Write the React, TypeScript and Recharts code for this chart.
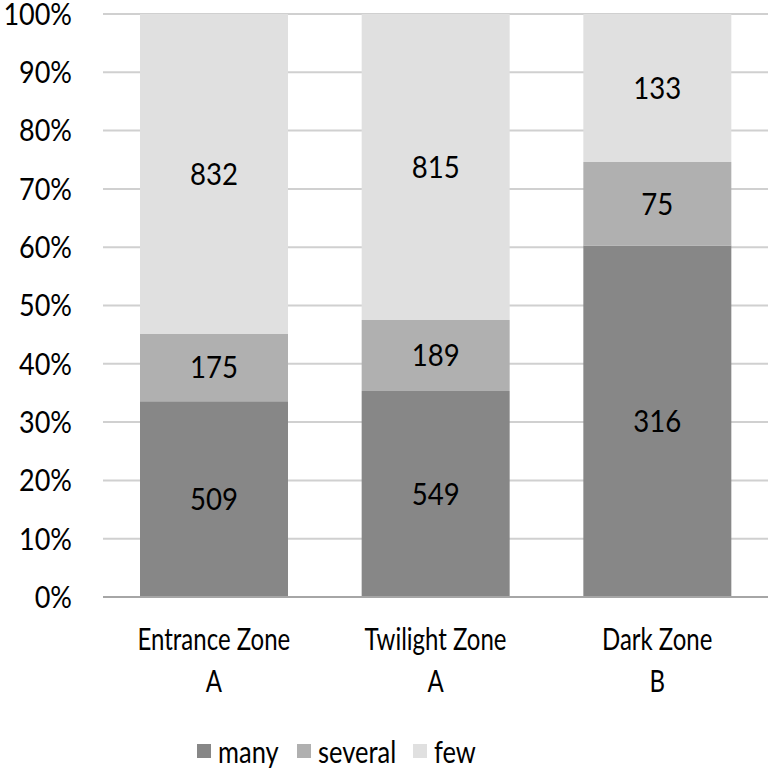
import React from "react";
import { BarChart, Bar, XAxis, YAxis, CartesianGrid, Legend, LabelList } from "recharts";

const zones = ["Entrance Zone", "Twilight Zone", "Dark Zone"];
const letters = ["A", "A", "B"];
const many = [509, 549, 316];
const several = [175, 189, 75];
const few = [832, 815, 133];
const yTicks = [0, 0.1, 0.2, 0.3, 0.4, 0.5, 0.6, 0.7, 0.8, 0.9, 1];

const series = [
  { key: "many", color: "#878787", slot: 100 },
  { key: "several", color: "#b0b0b0", slot: 116 },
  { key: "few", color: "#e0e0e0", slot: 70 },
];

const data = zones.map((zone, i) => ({
  zone,
  letter: letters[i],
  many: many[i],
  several: several[i],
  few: few[i],
}));

const FONT = "Lato, 'Noto Sans', sans-serif";
const FS = 30;

// text squeezed horizontally, the reference font is tall and narrow
function Squeezed({ x, y, sx, anchor = "middle", dy = "0", children }: any) {
  return (
    <text
      transform={`translate(${x},${y}) scale(${sx},1)`}
      x={0}
      y={0}
      dy={dy}
      textAnchor={anchor}
      fill="#000"
      fontSize={FS}
      fontFamily={FONT}
    >
      {children}
    </text>
  );
}

function ZoneTick(props: any) {
  const { x, payload, index } = props;
  return (
    <g>
      <Squeezed x={x} y={650} sx={0.8}>{payload.value}</Squeezed>
      <Squeezed x={x} y={692} sx={0.8}>{letters[index]}</Squeezed>
    </g>
  );
}

function PctTick(props: any) {
  const { x, y, payload } = props;
  return (
    <Squeezed x={x} y={y} sx={0.9} anchor="end" dy="0.36em">
      {`${Math.round(payload.value * 100)}%`}
    </Squeezed>
  );
}

function ValueLabel(props: any) {
  const { x, y, width, height, value } = props;
  return (
    <Squeezed x={x + width / 2} y={y + height / 2} sx={0.92} dy="0.36em">
      {value}
    </Squeezed>
  );
}

function LegendBox() {
  return (
    <div
      style={{
        height: 40,
        display: "flex",
        alignItems: "center",
        paddingLeft: 197,
        fontFamily: FONT,
        fontSize: FS,
        color: "#000",
      }}
    >
      {series.map((s) => (
        <div key={s.key} style={{ display: "flex", alignItems: "center", width: s.slot, flexShrink: 0 }}>
          <span style={{ width: 14, height: 14, background: s.color, display: "inline-block", marginRight: 7, flexShrink: 0 }} />
          <span style={{ display: "inline-block", transform: "scaleX(0.85)", transformOrigin: "left center", whiteSpace: "nowrap" }}>
            {s.key}
          </span>
        </div>
      ))}
    </div>
  );
}

export default function App() {
  return (
    <div style={{ position: "absolute", left: 0, top: 0, width: 768, height: 771, background: "#fff" }}>
      <BarChart
        width={768}
        height={771}
        data={data}
        stackOffset="expand"
        margin={{ top: 14, right: 0, left: 0, bottom: 0 }}
      >
        <CartesianGrid vertical={false} stroke="#d0d0d0" strokeWidth={2} />
        <XAxis
          dataKey="zone"
          height={134}
          axisLine={{ stroke: "#a6a6a6", strokeWidth: 2 }}
          tickLine={false}
          tick={<ZoneTick />}
          interval={0}
        />
        <YAxis
          width={103}
          domain={[0, 1]}
          ticks={yTicks}
          axisLine={false}
          tickLine={false}
          tickSize={0}
          tickMargin={31}
          tick={<PctTick />}
        />
        <Legend verticalAlign="bottom" content={<LegendBox />} />
        {series.map((s) => (
          <Bar key={s.key} dataKey={s.key} stackId="a" fill={s.color} barSize={148} isAnimationActive={false}>
            <LabelList dataKey={s.key} position="center" content={<ValueLabel />} />
          </Bar>
        ))}
      </BarChart>
    </div>
  );
}
